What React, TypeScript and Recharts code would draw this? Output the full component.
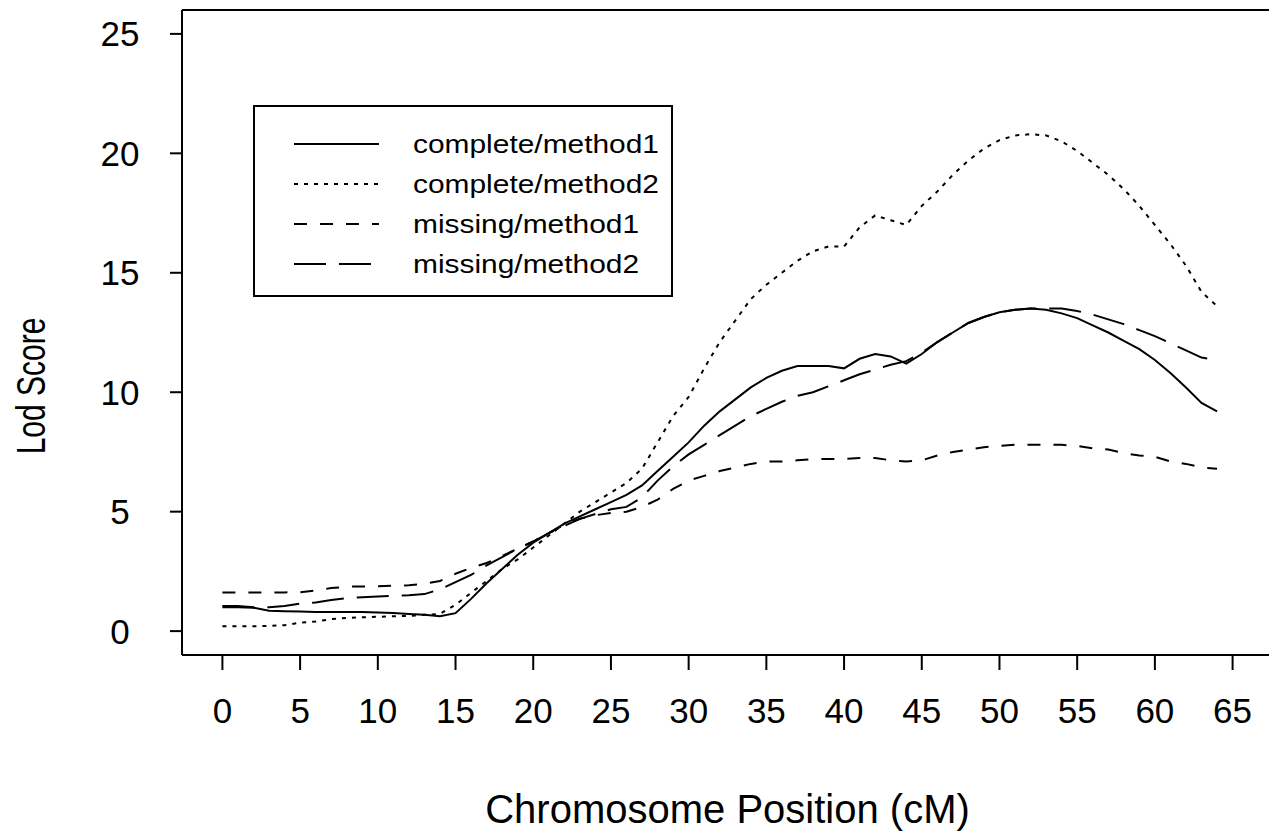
import React from "react";
import { LineChart, Line, XAxis, YAxis, Legend, ReferenceLine } from "recharts";

// chromosome positions (cM)
const positions = [
  0, 1, 2, 3, 4, 5, 6, 7, 8, 9, 10, 11, 12, 13, 14, 15, 16, 17, 18, 19, 20, 21,
  22, 23, 24, 25, 26, 27, 28, 29, 30, 31, 32, 33, 34, 35, 36, 37, 38, 39, 40,
  41, 42, 43, 44, 45, 46, 47, 48, 49, 50, 51, 52, 53, 54, 55, 56, 57, 58, 59,
  60, 61, 62, 63, 64,
];

const completeMethod1 = [
  1.0, 1.0, 0.98, 0.85, 0.83, 0.82, 0.8, 0.8, 0.8, 0.8, 0.78, 0.76, 0.72, 0.68,
  0.62, 0.75, 1.35, 2.0, 2.6, 3.2, 3.7, 4.1, 4.5, 4.8, 5.1, 5.4, 5.7, 6.1, 6.7,
  7.3, 7.9, 8.6, 9.2, 9.7, 10.2, 10.6, 10.9, 11.1, 11.1, 11.1, 11.0, 11.4, 11.6,
  11.5, 11.2, 11.6, 12.1, 12.5, 12.9, 13.15, 13.35, 13.45, 13.5, 13.45, 13.3,
  13.1, 12.8, 12.5, 12.15, 11.8, 11.35, 10.8, 10.2, 9.55, 9.2,
];

const completeMethod2 = [
  0.2, 0.2, 0.2, 0.22, 0.25, 0.35, 0.4, 0.5, 0.55, 0.58, 0.6, 0.62, 0.64, 0.68,
  0.72, 1.1, 1.6, 2.1, 2.6, 3.0, 3.5, 4.0, 4.5, 5.0, 5.4, 5.8, 6.2, 6.8, 7.9,
  9.0, 9.8, 11.0, 12.1, 13.0, 13.9, 14.5, 15.0, 15.5, 15.9, 16.1, 16.1, 16.9,
  17.4, 17.2, 17.0, 17.8, 18.4, 19.1, 19.7, 20.2, 20.55, 20.75, 20.8, 20.75,
  20.5, 20.1, 19.6, 19.1, 18.5, 17.8, 17.0, 16.2, 15.3, 14.2, 13.6,
];

const missingMethod1 = [
  1.62, 1.62, 1.62, 1.62, 1.62, 1.63, 1.7, 1.8, 1.86, 1.87, 1.88, 1.9, 1.92,
  1.98, 2.1, 2.4, 2.65, 2.85, 3.15, 3.45, 3.75, 4.1, 4.45, 4.7, 4.85, 4.95, 5.0,
  5.2, 5.5, 5.95, 6.3, 6.5, 6.7, 6.85, 7.0, 7.1, 7.1, 7.15, 7.2, 7.2, 7.2, 7.25,
  7.25, 7.15, 7.1, 7.15, 7.35, 7.5, 7.6, 7.7, 7.75, 7.8, 7.8, 7.8, 7.8, 7.75,
  7.65, 7.6, 7.45, 7.35, 7.3, 7.1, 7.0, 6.85, 6.8,
];

const missingMethod2 = [
  1.05, 1.05, 1.0, 1.0, 1.05, 1.15, 1.2, 1.3, 1.38, 1.42, 1.45, 1.48, 1.5, 1.55,
  1.75, 2.05, 2.35, 2.75, 3.1, 3.45, 3.75, 4.1, 4.4, 4.7, 4.9, 5.1, 5.2, 5.6,
  6.3, 6.9, 7.4, 7.8, 8.2, 8.6, 9.0, 9.3, 9.6, 9.85, 10.0, 10.25, 10.5, 10.75,
  10.95, 11.15, 11.3, 11.65, 12.1, 12.5, 12.9, 13.15, 13.35, 13.45, 13.5, 13.5,
  13.5, 13.4, 13.25, 13.05, 12.85, 12.6, 12.35, 12.05, 11.75, 11.45, 11.35,
];

const xTicks = [0, 5, 10, 15, 20, 25, 30, 35, 40, 45, 50, 55, 60, 65];
const yTicks = [0, 5, 10, 15, 20, 25];

const series = [
  { key: "cm1", name: "complete/method1", dash: undefined },
  { key: "cm2", name: "complete/method2", dash: "4 6" },
  { key: "mm1", name: "missing/method1", dash: "13 13" },
  { key: "mm2", name: "missing/method2", dash: "32 13" },
];

const data = positions.map((p, i) => ({
  pos: p,
  cm1: completeMethod1[i],
  cm2: completeMethod2[i],
  mm1: missingMethod1[i],
  mm2: missingMethod2[i],
}));

const FONT = "'Liberation Sans', Arial, Helvetica, sans-serif";

const YTick = (props: any) => {
  const { x, y, payload } = props;
  return (
    <text x={x} y={y} textAnchor="middle" dominantBaseline="central" fontSize={35} fontFamily={FONT} fill="#000">
      {payload.value}
    </text>
  );
};

const XTick = (props: any) => {
  const { x, y, payload } = props;
  return (
    <text x={x} y={y} textAnchor="middle" dominantBaseline="central" fontSize={35} fontFamily={FONT} fill="#000">
      {payload.value}
    </text>
  );
};

const YLabel = () => (
  <text
    transform="translate(31,386) rotate(-90) scale(0.75,1)"
    textAnchor="middle"
    dominantBaseline="central"
    fontSize={40}
    fontFamily={FONT}
    fill="#000"
  >
    Lod Score
  </text>
);

const renderLegend = () => (
  <div
    style={{
      width: 420,
      height: 192,
      border: "2px solid #000",
      boxSizing: "border-box",
      background: "#fff",
      position: "relative",
      fontFamily: FONT,
    }}
  >
    {series.map((s, i) => (
      <div key={s.key} style={{ position: "absolute", left: 0, top: 37 + i * 40 - 20, height: 40, width: "100%" }}>
        <svg width={90} height={40} style={{ position: "absolute", left: 37, top: 0 }}>
          <line x1={2} y1={20} x2={87} y2={20} stroke="#000" strokeWidth={2} strokeDasharray={s.dash} />
        </svg>
        <span
          style={{
            position: "absolute",
            left: 158,
            top: 0,
            lineHeight: "40px",
            fontSize: 26,
            transform: "scaleX(1.15)",
            transformOrigin: "left center",
            whiteSpace: "nowrap",
            color: "#000",
          }}
        >
          {s.name}
        </span>
      </div>
    ))}
  </div>
);

export default function App() {
  return (
    <div style={{ position: "absolute", left: 0, top: 0, width: 1269, height: 833, overflow: "hidden", background: "#fff" }}>
      <LineChart width={1290} height={833} data={data} margin={{ top: 10, right: 17, left: 0, bottom: 0 }}>
        <XAxis
          dataKey="pos"
          type="number"
          domain={[-2.6, 67.6]}
          ticks={xTicks}
          interval={0}
          height={178}
          tickSize={15}
          tickMargin={40}
          tick={<XTick />}
          axisLine={{ stroke: "#000", strokeWidth: 2 }}
          tickLine={{ stroke: "#000", strokeWidth: 2 }}
          label={{
            value: "Chromosome Position (cM)",
            position: "insideBottom",
            offset: 10,
            fontSize: 40,
            fontFamily: FONT,
            fill: "#000",
          }}
        />
        <YAxis
          type="number"
          domain={[-1, 26]}
          ticks={yTicks}
          interval={0}
          width={182}
          tickSize={12}
          tickMargin={50}
          tick={<YTick />}
          axisLine={{ stroke: "#000", strokeWidth: 2 }}
          tickLine={{ stroke: "#000", strokeWidth: 2 }}
          label={{ content: <YLabel /> }}
        />
        <ReferenceLine y={26} stroke="#000" strokeWidth={2} />
        <Legend
          layout="vertical"
          align="center"
          verticalAlign="middle"
          content={renderLegend}
          wrapperStyle={{ left: 253, top: 105, width: 420, height: 192 }}
        />
        {series.map((s) => (
          <Line
            key={s.key}
            dataKey={s.key}
            name={s.name}
            type="linear"
            stroke="#000"
            strokeWidth={2}
            strokeDasharray={s.dash}
            dot={false}
            activeDot={false}
            isAnimationActive={false}
          />
        ))}
      </LineChart>
    </div>
  );
}
